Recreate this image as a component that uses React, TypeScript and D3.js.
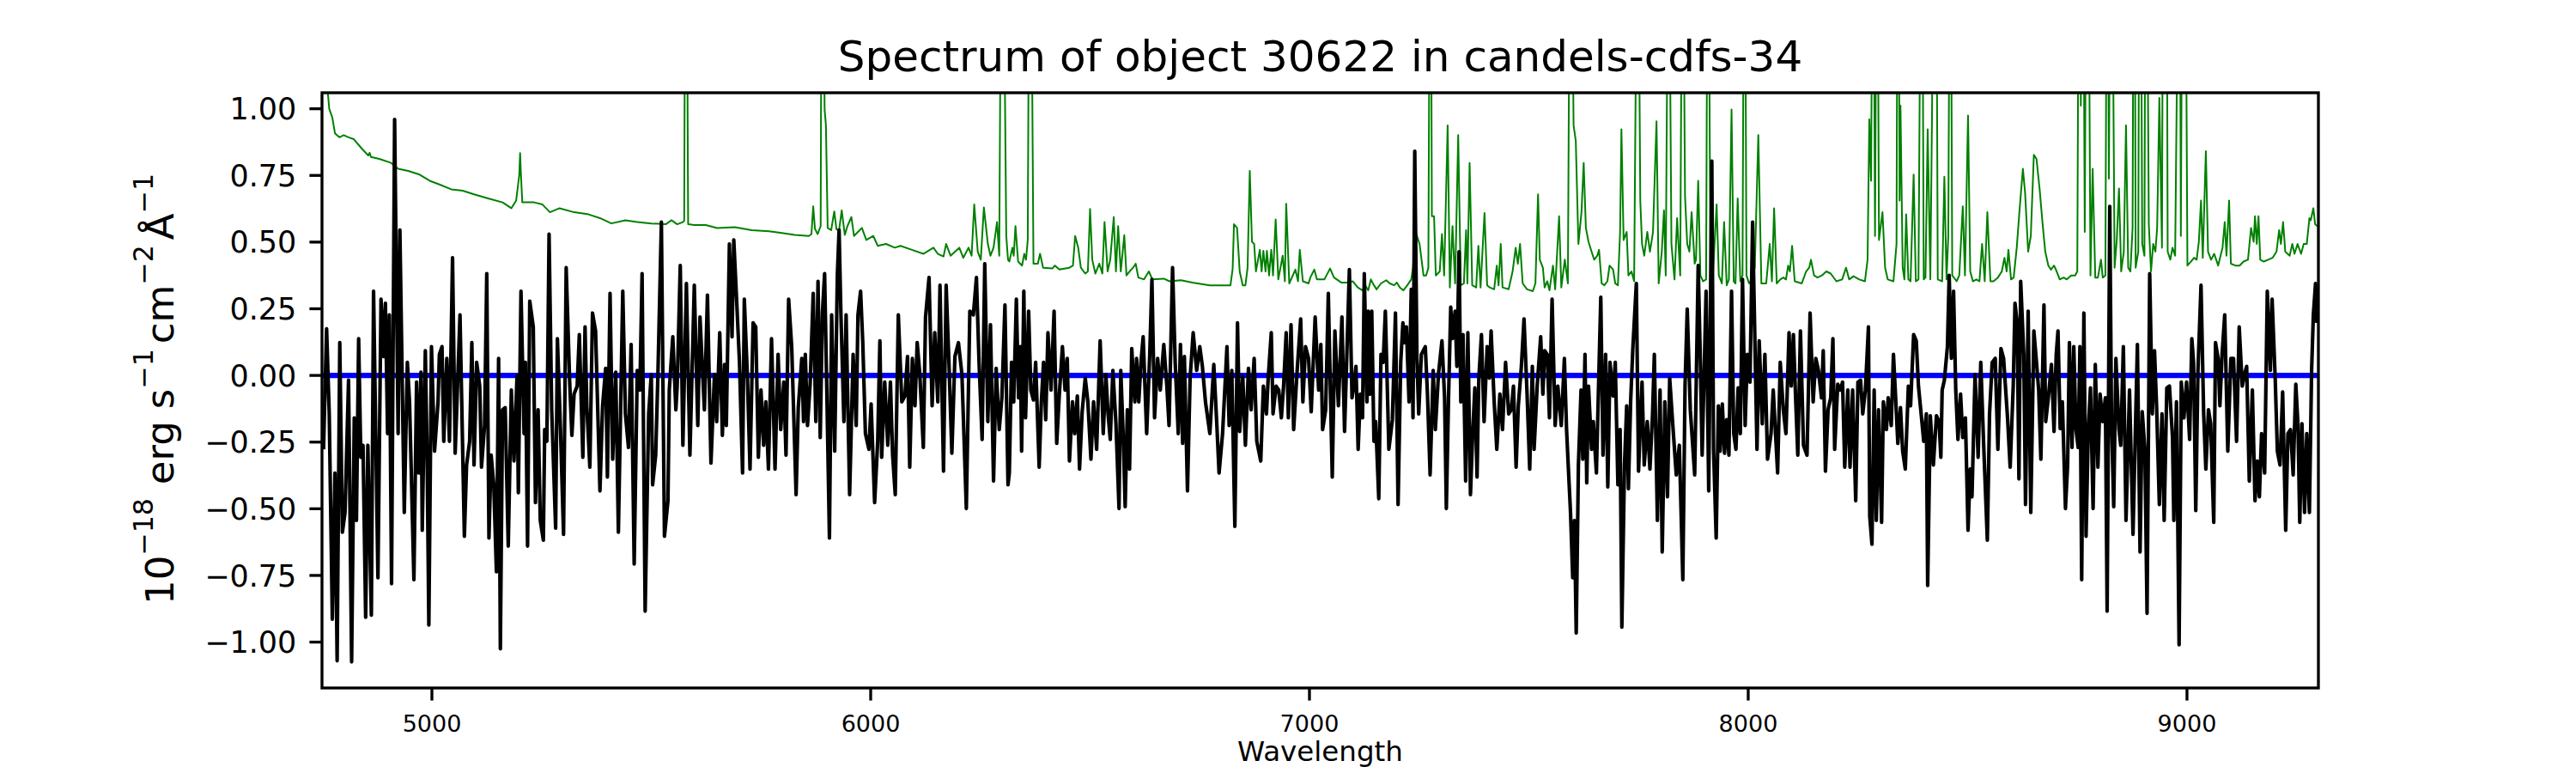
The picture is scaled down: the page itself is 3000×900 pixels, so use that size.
import React from 'react';
import * as d3 from 'd3';

const title = 'Spectrum of object 30622 in candels-cdfs-34';
const xLabel = 'Wavelength';
const xTicks = [5000, 6000, 7000, 8000, 9000];
const yTicks = [-1, -0.75, -0.5, -0.25, 0, 0.25, 0.5, 0.75, 1];
const xDomain: [number, number] = [4749.5, 9299.5];
const yDomain: [number, number] = [-1.172, 1.06];
const zeroLevel = 0;

// observed flux (black)
const spectrum: [number, number][] = [
[4753,-0.277],[4760,0.175],[4766,-0.144],[4773,-0.914],[4779,-0.366],[4784,-1.070],[4790,0.123],[4796,-0.588],[4802,-0.514],[4810,-0.018],
[4817,-1.074],[4823,-0.159],[4828,-0.544],[4833,0.138],[4838,-0.307],[4843,-0.262],[4849,-0.907],[4854,-0.262],[4862,-0.899],[4867,0.316],
[4877,-0.759],[4884,0.286],[4890,0.071],[4894,0.271],[4899,-0.218],[4903,0.227],[4908,-0.781],[4915,0.960],[4923,-0.218],[4927,0.545],
[4937,-0.514],[4944,0.049],[4949,-0.099],[4959,-0.766],[4965,-0.025],[4970,-0.366],[4975,0.012],[4978,-0.581],[4985,0.093],[4989,-0.292],
[4993,-0.936],[4999,0.108],[5006,-0.284],[5014,-0.099],[5017,0.079],[5023,0.108],[5027,-0.247],[5034,0.064],[5040,-0.247],[5047,0.441],
[5053,-0.292],[5064,0.227],[5074,-0.603],[5079,-0.336],[5086,-0.247],[5091,0.123],[5096,-0.336],[5102,0.049],[5109,-0.040],[5113,-0.344],
[5120,-0.188],[5125,0.382],[5130,-0.610],[5135,-0.299],[5141,-0.410],[5147,-0.736],[5152,0.064],[5156,-1.025],[5161,-0.129],[5167,-0.121],
[5174,-0.640],[5181,-0.055],[5187,-0.321],[5194,-0.003],[5197,-0.440],[5203,0.316],[5210,-0.218],[5213,0.049],[5218,-0.640],[5223,0.279],
[5231,0.182],[5236,-0.477],[5242,-0.129],[5247,-0.544],[5254,-0.618],[5257,-0.203],[5262,-0.247],[5267,0.530],[5273,-0.129],[5282,-0.573],
[5286,0.138],[5293,-0.203],[5300,-0.596],[5306,0.404],[5314,-0.025],[5319,-0.225],[5324,-0.070],[5331,-0.040],[5336,0.153],[5344,-0.307],
[5349,0.182],[5353,-0.114],[5360,-0.344],[5366,0.234],[5373,0.167],[5383,-0.433],[5389,-0.114],[5396,0.027],[5400,-0.381],[5406,0.308],
[5412,-0.314],[5419,0.012],[5425,-0.588],[5435,0.316],[5441,-0.144],[5448,-0.270],[5454,0.116],[5461,-0.707],[5468,0.019],[5474,-0.055],
[5479,0.382],[5486,-0.884],[5494,-0.144],[5500,0.004],[5503,-0.410],[5510,-0.299],[5515,-0.003],[5523,0.575],[5530,-0.603],
[5538,-0.470],[5541,-0.055],[5549,0.145],[5556,-0.129],[5559,-0.040],[5566,0.412],[5572,-0.262],[5580,0.345],[5588,-0.299],[5598,0.338],
[5606,-0.188],[5611,0.219],[5621,-0.129],[5628,0.301],[5636,-0.329],[5644,0.004],[5649,-0.173],[5656,0.160],[5662,-0.225],[5667,0.041],
[5671,-0.188],[5678,0.493],[5684,0.145],[5688,0.508],[5695,0.264],[5701,0.049],[5708,-0.366],[5712,0.286],[5719,-0.003],[5725,-0.351],
[5732,0.197],[5738,0.182],[5744,-0.307],[5750,-0.055],[5756,-0.262],[5761,-0.099],[5767,-0.351],[5774,0.138],[5782,-0.351],[5789,0.079],
[5795,-0.203],[5802,-0.025],[5807,-0.299],[5813,0.286],[5820,0.108],[5830,-0.447],[5835,-0.121],[5843,0.064],[5847,-0.173],[5851,0.079],
[5856,-0.188],[5862,-0.033],[5869,0.308],[5875,-0.173],[5880,0.353],[5885,-0.233],[5890,0.234],[5895,0.382],[5900,-0.055],[5906,-0.610],
[5911,0.227],[5918,-0.284],[5924,0.375],[5928,0.545],[5932,0.241],[5939,-0.173],[5944,0.227],[5952,-0.447],[5960,0.079],[5967,-0.188],
[5971,0.227],[5977,0.316],[5982,0.123],[5988,-0.218],[5996,-0.277],[6001,-0.107],[6009,-0.477],[6016,-0.247],[6021,0.130],[6025,-0.307],
[6032,-0.025],[6039,-0.262],[6045,-0.025],[6050,-0.299],[6056,-0.447],[6063,0.227],[6071,-0.099],[6078,-0.077],[6084,0.071],[6089,-0.344],
[6095,0.064],[6101,-0.114],[6106,0.123],[6112,0.004],[6120,-0.270],[6125,0.219],[6133,0.367],[6140,-0.114],[6146,0.160],[6153,-0.099],
[6158,0.338],[6166,-0.359],[6172,0.338],[6179,0.019],[6185,-0.292],[6192,0.071],[6200,0.123],[6208,0.004],[6218,-0.499],[6226,0.241],
[6234,0.227],[6241,0.367],[6247,0.049],[6254,-0.240],[6260,0.419],[6267,-0.173],[6273,0.190],[6280,-0.396],[6286,0.027],[6293,-0.203],
[6299,-0.084],[6306,0.264],[6313,-0.410],
[6316,-0.366],[6321,0.049],[6326,-0.099],[6332,0.286],[6337,-0.084],[6341,0.108],[6344,-0.284],[6349,0.316],[6353,-0.159],[6360,0.241],
[6365,-0.055],[6371,-0.092],[6376,0.049],[6384,-0.344],[6389,-0.099],[6394,0.049],[6399,-0.166],[6404,0.160],[6411,-0.055],[6418,0.241],
[6424,-0.255],[6430,-0.070],[6437,0.108],[6443,-0.055],[6448,0.064],[6453,-0.321],[6460,-0.099],[6465,-0.218],[6471,-0.077],[6476,-0.351],
[6482,-0.136],[6489,-0.010],[6495,-0.099],[6502,-0.314],[6508,-0.099],[6515,-0.277],[6523,0.130],[6530,-0.218],[6536,0.004],[6541,-0.144],
[6546,-0.240],[6552,0.019],[6559,-0.181],[6566,-0.499],[6570,0.019],[6576,-0.247],[6580,-0.492],[6585,-0.129],[6590,-0.351],[6595,0.101],
[6602,-0.099],[6606,0.064],[6611,-0.099],[6616,0.049],[6621,0.145],[6629,-0.218],[6636,0.079],[6641,0.360],[6647,-0.159],[6654,0.064],
[6660,-0.055],[6668,0.116],[6675,-0.040],[6680,-0.188],[6688,0.404],[6694,0.049],[6701,-0.218],[6706,0.116],[6711,-0.255],[6715,0.071],
[6722,-0.433],[6728,-0.010],[6735,0.160],[6743,0.019],[6750,0.108],[6756,0.034],[6763,-0.099],[6773,-0.218],[6782,0.041],[6789,-0.188],
[6794,-0.366],[6802,-0.218],[6812,0.108],[6817,-0.188],[6823,0.019],[6830,-0.566],[6836,0.197],[6841,-0.210],[6848,-0.003],[6854,-0.262],
[6861,0.027],[6867,-0.129],[6874,0.064],[6880,-0.247],[6889,-0.321],[6895,-0.040],[6902,-0.144],[6906,-0.010],[6913,0.160],[6917,-0.144],
[6924,-0.040],[6930,-0.055],[6936,-0.159],[6941,-0.040],[6947,0.160],[6952,-0.159],[6958,0.190],[6964,-0.203],[6972,0.019],[6980,0.212],
[6985,-0.099],[6991,0.108],[6998,0.064],[7004,-0.136],[7013,0.219],[7021,-0.055],[7026,0.116],[7030,-0.203],[7037,-0.129],[7043,0.308],
[7052,-0.381],[7058,0.167],[7066,-0.114],[7074,0.219],[7080,-0.210],[7091,0.397],[7097,-0.084],
[7101,-0.040],[7106,0.034],[7111,-0.277],[7116,-0.070],[7121,-0.159],[7125,0.382],[7131,-0.099],[7134,0.241],[7138,-0.070],[7142,0.241],
[7147,-0.247],[7151,-0.173],[7158,-0.462],[7163,0.079],[7168,0.049],[7173,0.241],[7181,-0.277],[7189,-0.166],[7196,0.234],[7202,-0.484],
[7208,0.049],[7213,0.197],[7217,0.123],[7221,0.182],[7227,-0.099],[7232,0.323],[7236,-0.159],[7240,0.841],[7245,0.064],[7249,-0.144],
[7255,0.079],[7264,0.108],[7269,-0.070],[7275,-0.373],[7282,0.019],[7287,-0.203],[7294,0.004],[7302,0.130],[7308,-0.084],[7312,-0.499],
[7317,-0.084],[7322,0.256],[7326,0.138],[7332,0.241],[7336,0.034],[7341,0.464],[7345,-0.099],[7350,0.153],[7356,-0.396],[7361,0.160],
[7367,-0.447],[7372,-0.218],[7377,-0.047],[7382,-0.381],[7386,-0.010],[7392,0.153],[7398,-0.173],[7405,0.108],[7410,-0.010],[7414,0.167],
[7421,-0.099],[7427,-0.277],[7434,-0.070],[7440,-0.203],[7447,0.049],[7454,-0.144],[7460,-0.129],[7465,-0.040],[7471,-0.344],[7476,-0.114],
[7483,0.034],[7489,0.212],[7496,-0.070],[7502,-0.351],[7508,0.034],[7512,-0.277],[7519,-0.040],[7527,0.145],[7532,-0.070],[7536,0.093],
[7542,0.079],[7547,-0.159],[7553,0.286],[7560,-0.188],[7566,-0.040],[7574,-0.188],[7581,0.064],[7586,-0.203],[7590,-0.344],[7595,-0.514],
[7600,-0.759],[7604,-0.544],[7608,-0.966],[7613,-0.336],[7619,-0.055],[7623,-0.314],[7628,0.079],[7632,-0.403],[7636,-0.040],[7643,-0.277],
[7647,-0.173],[7654,-0.366],[7659,-0.033],[7664,0.293],[7669,-0.299],[7675,0.079],[7680,-0.418],[7685,0.049],[7692,-0.077],[7697,0.049],
[7703,-0.410],[7708,-0.203],[7712,-0.944],[7718,-0.336],[7723,-0.114],[7727,-0.425],[7732,-0.099],[7737,0.101],[7745,0.345],[7750,-0.359],
[7758,-0.025],[7763,-0.336],[7770,-0.173],[7776,-0.351],[7782,-0.144],[7786,0.079],[7793,-0.544],[7799,-0.055],[7804,-0.662],[7810,-0.099],
[7816,-0.455],[7821,-0.010],[7827,-0.159],[7836,-0.373],[7843,-0.262],[7851,-0.766],[7856,-0.040],[7861,0.249],[7868,-0.129],[7878,-0.373],
[7886,0.412],[7891,0.049],[7895,-0.299],[7904,0.316],[7910,-0.433],[7917,0.804],[7921,-0.277],[7927,-0.610],[7932,-0.114],[7936,-0.284],
[7941,-0.107],[7946,-0.292],[7951,-0.166],[7956,-0.299],[7962,0.316],[7967,-0.218],[7972,-0.277],[7977,-0.047],[7982,-0.218],[7987,0.360],
[7993,-0.188],[7998,0.079],[8004,-0.025],[8010,0.575],[8020,-0.277],[8025,0.130],[8032,-0.181],[8038,0.079],[8044,-0.314],[8052,-0.218],
[8057,-0.055],[8067,-0.366],[8073,0.049],[8080,-0.129],[8086,-0.218],[8093,0.160],[8098,-0.040],[8103,0.153],[8108,-0.084],[8113,-0.299],
[8119,0.167],[8126,-0.262],[8134,-0.299],[8141,0.234],[8148,-0.099],[8154,0.064],[8160,0.019],[8167,-0.084],[8171,0.093],[8176,-0.359],
[8182,-0.129],[8188,-0.084],[8193,0.138],[8197,-0.277],[8204,-0.033],[8210,-0.055],[8215,-0.025],[8220,-0.344],[8227,-0.055],[8232,-0.344],
[8238,-0.055],[8245,-0.470],[8250,-0.025],[8256,-0.018],[8261,-0.144],[8267,-0.055],[8274,0.182],[8277,-0.529],[8282,-0.633],[8287,-0.055],
[8292,-0.544],[8297,-0.129],[8304,-0.551],[8308,-0.099],[8315,-0.203],[8319,-0.084],[8326,-0.188],[8331,0.079],[8336,-0.084],[8341,-0.255],
[8347,-0.121],[8352,-0.284],[8358,-0.351],[8365,-0.040],[8370,-0.114],[8377,0.153],[8383,0.130],[8388,-0.040],[8395,-0.159],[8400,-0.247],
[8406,-0.144],[8409,-0.788],[8415,-0.151],[8422,-0.336],[8429,-0.151],[8435,-0.173],[8439,-0.307],[8442,-0.055],[8447,-0.018],[8454,0.108],
[8458,0.375],[8463,0.064],[8468,0.316],[8473,-0.055],[8478,-0.240],[8484,-0.070],[8489,-0.233],[8495,-0.159],[8501,-0.581],[8506,-0.351],
[8510,-0.455],[8517,0.004],[8524,-0.307],[8530,0.049],[8537,-0.277],[8545,-0.618],[8550,-0.144],[8556,0.049],[8563,0.064],[8569,-0.277],
[8576,0.101],[8582,0.064],[8591,-0.159],[8597,-0.344],[8604,-0.040],[8608,0.271],[8613,0.197],[8617,-0.388],[8621,0.353],[8628,0.079],
[8632,-0.484],[8638,0.241],[8644,-0.514],[8651,0.167],[8657,0.049],[8662,-0.055],
[8667,-0.314],[8674,0.264],[8678,-0.173],[8684,-0.084],[8691,0.041],[8697,-0.210],[8702,0.079],[8706,0.167],[8711,-0.199],[8716,-0.099],
[8723,-0.499],[8728,-0.336],[8732,0.123],[8738,-0.270],[8742,0.108],[8747,-0.203],[8752,-0.270],[8756,0.108],[8760,-0.766],[8765,0.234],
[8770,-0.603],[8775,-0.203],[8780,-0.047],[8786,-0.499],[8791,0.041],[8797,-0.344],[8802,-0.070],[8808,-0.173],[8814,-0.084],[8818,-0.884],
[8824,0.634],[8828,-0.173],[8833,-0.492],[8838,0.064],[8845,-0.203],[8849,-0.262],[8855,0.108],[8861,-0.544],[8869,-0.055],[8877,-0.596],
[8882,-0.233],[8887,0.116],[8893,-0.662],[8898,-0.136],[8904,-0.277],[8909,-0.892],[8915,0.382],[8921,-0.144],[8926,0.093],[8931,-0.129],
[8937,-0.484],[8943,-0.144],[8948,-0.544],[8954,-0.047],[8960,-0.040],[8967,-0.233],[8970,-0.544],[8976,-0.099],[8982,-1.010],[8987,-0.025],
[8993,-0.159],[8999,-0.025],[9006,-0.240],[9011,0.138],[9015,0.049],[9020,-0.507],[9025,0.019],[9032,0.338],[9038,-0.144],[9043,-0.351],
[9049,-0.129],[9054,-0.181],[9061,-0.551],[9065,0.123],[9071,0.064],[9075,-0.114],[9080,0.079],[9086,0.227],[9093,-0.284],[9100,0.064],
[9106,0.064],[9113,-0.247],[9119,0.182],[9126,-0.040],[9131,0.004],[9136,0.034],[9142,-0.396],[9149,-0.055],[9155,-0.470],[9160,-0.321],
[9165,-0.455],[9170,-0.218],[9177,-0.366],[9183,0.316],[9190,0.019],[9194,0.286],[9201,-0.010],[9206,-0.284],[9212,-0.336],[9218,-0.062],
[9225,-0.581],[9230,-0.218],[9236,-0.203],[9242,-0.373],[9248,-0.033],[9253,-0.188],[9257,-0.551],[9262,-0.181],[9268,-0.514],[9273,-0.218],
[9279,-0.514],[9284,0.019],[9288,0.227],[9293,0.345],[9296,0.197]
];

// noise / sky spectrum (green); peaks that leave the frame are clipped
const sky: [number, number][] = [
[4750,1.6],[4758,1.15],[4766,1.0],[4773,0.967],[4779,0.908],[4789,0.893],[4799,0.901],[4810,0.893],[4822,0.886],[4841,0.849],
[4855,0.825],[4858,0.835],[4861,0.819],[4880,0.812],[4907,0.797],[4923,0.775],[4946,0.767],[4972,0.753],[4995,0.730],[5017,0.716],
[5044,0.698],[5070,0.693],[5096,0.679],[5128,0.664],[5161,0.649],[5181,0.627],[5192,0.656],[5199,0.75],[5201,0.834],[5203,0.75],
[5206,0.649],[5233,0.649],[5252,0.641],[5269,0.612],[5291,0.627],[5324,0.612],[5357,0.604],[5383,0.590],[5409,0.570],[5441,0.582],
[5468,0.575],[5500,0.570],[5533,0.567],[5546,0.582],[5559,0.567],[5572,0.575],[5575,0.58],[5577,1.6],[5581,1.6],[5584,0.567],
[5598,0.564],[5624,0.564],[5650,0.553],[5690,0.556],[5729,0.545],[5768,0.541],[5794,0.535],[5827,0.527],[5859,0.523],[5865,0.53],
[5869,0.634],[5873,0.55],[5879,0.53],[5886,0.56],[5888,1.6],[5892,1.6],[5895,0.997],[5898,0.938],[5902,0.553],[5910,0.545],
[5917,0.615],[5922,0.548],[5928,0.545],[5934,0.619],[5941,0.527],[5947,0.560],[5956,0.594],[5962,0.523],[5971,0.538],[5980,0.553],
[5990,0.508],[6006,0.523],[6016,0.486],[6035,0.493],[6055,0.479],[6068,0.486],[6094,0.471],[6120,0.456],[6143,0.479],[6153,0.456],
[6166,0.446],[6172,0.493],[6182,0.449],[6202,0.479],[6211,0.441],[6223,0.479],[6230,0.449],[6236,0.641],[6244,0.464],[6251,0.434],
[6258,0.630],[6267,0.493],[6273,0.449],[6280,0.479],[6288,0.575],[6293,0.449],[6297,1.6],[6303,1.6],[6309,0.523],[6313,0.434],
[6316,0.427],[6323,0.479],[6326,0.449],[6330,0.560],[6336,0.427],[6345,0.412],[6350,0.456],[6354,0.434],[6358,0.508],[6361,1.6],
[6366,1.6],[6371,0.419],[6381,0.419],[6386,0.456],[6393,0.404],[6414,0.401],[6420,0.412],[6430,0.397],[6453,0.404],[6461,0.412],
[6466,0.523],[6473,0.479],[6479,0.404],[6489,0.382],[6495,0.390],[6500,0.624],[6505,0.434],[6512,0.382],[6521,0.419],[6528,0.382],
[6533,0.575],[6540,0.390],[6546,0.434],[6554,0.594],[6559,0.390],[6564,0.560],[6570,0.390],[6578,0.526],[6583,0.375],[6590,0.390],
[6598,0.404],[6604,0.419],[6610,0.367],[6623,0.360],[6634,0.390],[6642,0.360],[6668,0.363],[6681,0.353],[6707,0.357],[6733,0.348],
[6773,0.338],[6820,0.338],[6825,0.40],[6828,0.567],[6835,0.553],[6841,0.390],[6848,0.338],[6854,0.338],[6859,0.404],[6864,0.767],
[6869,0.501],[6874,0.493],[6878,0.390],[6887,0.471],[6891,0.390],[6895,0.467],[6900,0.390],[6903,0.467],[6908,0.375],[6913,0.471],
[6917,0.375],[6923,0.585],[6929,0.360],[6939,0.449],[6944,0.353],[6947,0.644],[6954,0.345],[6968,0.397],[6974,0.353],[6978,0.471],
[6985,0.353],[6998,0.345],[7002,0.367],[7011,0.397],[7017,0.360],[7034,0.360],[7047,0.401],[7056,0.367],[7073,0.348],[7086,0.348],
[7099,0.353],[7110,0.330],[7121,0.319],[7127,0.338],[7134,0.319],[7140,0.360],[7147,0.338],[7153,0.323],[7163,0.345],[7175,0.357],
[7183,0.345],[7193,0.338],[7199,0.348],[7206,0.330],[7214,0.319],[7223,0.338],[7232,0.360],[7236,0.404],[7242,0.538],[7251,0.493],
[7260,0.375],[7266,0.375],[7271,0.404],[7274,1.6],[7277,1.6],[7279,0.597],[7284,0.597],[7288,0.375],[7297,0.390],[7302,0.530],
[7307,0.375],[7315,0.938],[7320,0.330],[7326,0.560],[7332,0.345],[7339,0.901],[7345,0.338],[7352,0.345],[7357,0.545],[7360,0.345],
[7365,0.797],[7371,0.338],[7380,0.330],[7385,0.486],[7390,0.330],[7399,0.609],[7405,0.338],[7411,0.330],[7421,0.323],[7427,0.412],
[7431,0.338],[7436,0.493],[7440,0.330],[7454,0.323],[7463,0.390],[7470,0.479],[7475,0.419],[7480,0.493],[7486,0.345],[7496,0.323],
[7509,0.316],[7515,0.345],[7521,0.679],[7525,0.434],[7532,0.404],[7536,0.330],[7542,0.353],[7547,0.319],[7555,0.412],[7560,0.323],
[7569,0.597],[7574,0.330],[7582,0.434],[7589,0.345],[7593,1.6],[7598,1.6],[7602,0.938],[7607,0.879],[7613,0.493],[7620,0.612],
[7625,0.797],[7630,0.553],[7636,0.501],[7643,0.464],[7649,0.434],[7656,0.449],[7660,0.471],[7666,0.345],[7672,0.338],[7679,0.353],
[7684,0.412],[7692,0.397],[7697,0.345],[7703,0.338],[7708,0.538],[7711,0.923],[7716,0.508],[7723,0.538],[7727,0.375],[7734,0.390],
[7740,0.353],[7746,1.6],[7750,1.6],[7754,0.656],[7758,0.493],[7763,0.449],[7770,0.538],[7776,0.464],[7783,0.538],[7791,0.953],
[7796,0.345],[7803,0.464],[7808,0.619],[7812,0.375],[7817,1.6],[7820,1.6],[7825,0.493],[7832,0.360],[7838,0.590],[7845,0.375],
[7849,1.6],[7852,1.6],[7856,0.671],[7861,0.493],[7866,0.464],[7871,0.612],[7878,0.419],[7881,0.434],[7886,0.730],[7891,0.375],
[7897,0.353],[7904,0.360],[7907,1.6],[7910,1.6],[7914,0.375],[7919,0.360],[7928,0.641],[7933,0.375],[7940,0.345],[7945,0.575],
[7951,0.338],[7956,0.360],[7962,0.997],[7967,0.353],[7971,0.345],[7976,0.664],[7982,0.353],[7987,0.375],[7990,1.6],[7993,1.6],
[7996,0.375],[8002,0.345],[8008,0.360],[8015,0.404],[8023,0.901],[8030,0.345],[8041,0.345],[8049,0.493],[8054,0.353],[8059,0.627],
[8065,0.345],[8073,0.360],[8080,0.367],[8086,0.360],[8091,0.412],[8095,0.390],[8100,0.486],[8106,0.353],[8122,0.345],[8132,0.390],
[8139,0.404],[8143,0.434],[8150,0.375],[8158,0.367],[8168,0.375],[8178,0.390],[8188,0.382],[8201,0.353],[8214,0.360],[8223,0.404],
[8230,0.360],[8240,0.372],[8253,0.360],[8266,0.353],[8272,0.434],[8276,0.960],[8280,0.730],[8283,1.6],[8286,1.6],[8289,0.523],
[8292,1.6],[8295,1.6],[8298,0.508],[8306,0.612],[8312,0.404],[8318,0.360],[8331,0.353],[8338,0.493],[8340,1.6],[8343,1.6],
[8345,0.656],[8347,1.012],[8352,0.404],[8356,0.360],[8360,0.604],[8365,0.360],[8370,0.353],[8377,0.753],[8382,0.353],[8388,0.360],
[8393,1.6],[8397,1.6],[8400,0.360],[8404,0.367],[8409,0.923],[8415,0.360],[8419,0.997],[8421,1.6],[8429,1.6],[8432,0.360],
[8442,0.353],[8447,0.745],[8452,0.360],[8456,0.523],[8459,1.6],[8462,1.6],[8465,0.375],[8475,0.353],[8481,0.375],[8489,0.634],
[8494,0.375],[8501,0.975],[8506,0.390],[8512,0.353],[8520,0.360],[8527,0.353],[8533,0.493],[8539,0.353],[8545,0.612],[8552,0.353],
[8559,0.353],[8569,0.367],[8578,0.390],[8584,0.441],[8589,0.390],[8593,0.471],[8599,0.360],[8605,0.367],[8612,0.479],[8618,0.612],
[8626,0.775],[8631,0.686],[8638,0.464],[8644,0.523],[8651,0.827],[8657,0.812],[8664,0.701],[8671,0.567],[8677,0.464],[8684,0.412],
[8690,0.397],[8697,0.412],[8703,0.390],[8710,0.360],[8719,0.367],[8726,0.360],[8736,0.375],[8745,0.375],[8750,0.390],[8753,1.6],
[8757,1.6],[8758,1.012],[8761,1.6],[8764,1.6],[8767,0.538],[8770,1.6],[8776,1.6],[8780,0.375],[8785,0.775],[8791,0.367],
[8797,0.367],[8804,0.434],[8808,0.367],[8814,0.375],[8817,1.6],[8820,1.6],[8822,0.738],[8825,1.6],[8830,1.6],[8835,0.404],
[8840,0.508],[8845,0.701],[8850,0.390],[8856,0.464],[8861,0.938],[8866,0.404],[8871,0.390],[8876,0.553],[8878,1.6],[8881,1.6],
[8883,0.404],[8889,0.464],[8891,1.6],[8895,1.6],[8898,0.493],[8903,0.449],[8905,1.6],[8909,1.6],[8913,0.567],[8918,0.390],
[8923,0.493],[8928,0.464],[8932,0.553],[8937,1.041],[8943,0.479],[8945,1.6],[8954,1.6],[8956,0.464],[8962,0.434],[8967,0.479],
[8973,0.449],[8980,1.6],[8984,1.6],[8986,0.523],[8989,1.6],[8997,1.6],[9001,0.412],[9009,0.427],[9016,0.441],[9022,0.434],
[9027,0.501],[9032,0.656],[9036,0.441],[9043,0.841],[9048,0.464],[9055,0.434],[9062,0.456],[9071,0.412],[9081,0.479],[9086,0.575],
[9090,0.449],[9096,0.656],[9100,0.419],[9110,0.412],[9120,0.412],[9129,0.427],[9139,0.434],[9146,0.553],[9152,0.501],[9155,0.597],
[9159,0.493],[9163,0.597],[9167,0.434],[9175,0.427],[9185,0.434],[9195,0.441],[9204,0.464],[9210,0.545],[9214,0.493],[9219,0.575],
[9224,0.464],[9234,0.449],[9240,0.493],[9245,0.456],[9252,0.493],[9260,0.456],[9266,0.493],[9273,0.493],[9279,0.590],[9282,0.582],
[9288,0.627],[9292,0.567],[9297,0.560]
];

const FONT = '"DejaVu Sans", Verdana, sans-serif';

function fmtY(v: number): string {
  const s = Math.abs(v).toFixed(2);
  return v < 0 ? '\u2212' + s : s;
}

export default function App() {
  const W = 3000;
  const H = 900;
  const left = 375, right = 2700, top = 108, bottom = 801;
  const x = d3.scaleLinear().domain(xDomain).range([left, right]);
  const y = d3.scaleLinear().domain(yDomain).range([bottom, top]);
  const line = d3.line<[number, number]>().x(d => x(d[0])).y(d => y(d[1]));
  const tickLen = 14.6;
  const axisW = 3.33;
  const sup = 31.5;
  const supUp = 24;

  return (
    <svg width={W} height={H} viewBox={`0 0 ${W} ${H}`}
      style={{ position: 'absolute', left: 0, top: 0, background: '#ffffff' }}
      xmlns="http://www.w3.org/2000/svg">
      <rect x={0} y={0} width={W} height={H} fill="#ffffff" />
      <defs>
        <clipPath id="plotClip">
          <rect x={left} y={top} width={right - left} height={bottom - top} />
        </clipPath>
      </defs>
      <g clipPath="url(#plotClip)">
        <path d={line(sky) || ''} fill="none" stroke="#008000" strokeWidth={2} strokeLinejoin="round" />
        <line x1={left} x2={right} y1={y(zeroLevel)} y2={y(zeroLevel)} stroke="#0000ff" strokeWidth={6.25} />
        <path d={line(spectrum) || ''} fill="none" stroke="#000000" strokeWidth={4.17} strokeLinejoin="round" />
      </g>
      <rect x={left} y={top} width={right - left} height={bottom - top} fill="none" stroke="#000" strokeWidth={axisW} />
      {yTicks.map(t => (
        <g key={'y' + t}>
          <line x1={left - tickLen} x2={left} y1={y(t)} y2={y(t)} stroke="#000" strokeWidth={axisW} />
          <text x={left - tickLen - 15} y={y(t)} dy="0.36em" textAnchor="end" fontFamily={FONT} fontSize={35} fill="#000">{fmtY(t)}</text>
        </g>
      ))}
      {xTicks.map(t => (
        <g key={'x' + t}>
          <line x1={x(t)} x2={x(t)} y1={bottom} y2={bottom + tickLen} stroke="#000" strokeWidth={axisW} />
          <text x={x(t)} y={852} textAnchor="middle" fontFamily={FONT} fontSize={27} fill="#000">{t}</text>
        </g>
      ))}
      <text x={(left + right) / 2} y={886} textAnchor="middle" fontFamily={FONT} fontSize={32.5} fill="#000">{xLabel}</text>
      <text x={(left + right) / 2} y={83} textAnchor="middle" fontFamily={FONT} fontSize={50} fill="#000">{title}</text>
      <text transform={`translate(202,453) rotate(-90)`} textAnchor="middle" fontFamily={FONT} fontSize={45} fill="#000">
        <tspan>10</tspan>
        <tspan fontSize={sup} dy={-supUp}>{'\u221218'}</tspan>
        <tspan dy={supUp} dx={16}>erg</tspan>
        <tspan dx={14}>s</tspan>
        <tspan fontSize={sup} dy={-supUp}>{'\u22121'}</tspan>
        <tspan dy={supUp} dx={6}>cm</tspan>
        <tspan fontSize={sup} dy={-supUp}>{'\u22122'}</tspan>
        <tspan dy={supUp} dx={6}>{'\u00c5'}</tspan>
        <tspan fontSize={sup} dy={-supUp}>{'\u22121'}</tspan>
      </text>
    </svg>
  );
}
